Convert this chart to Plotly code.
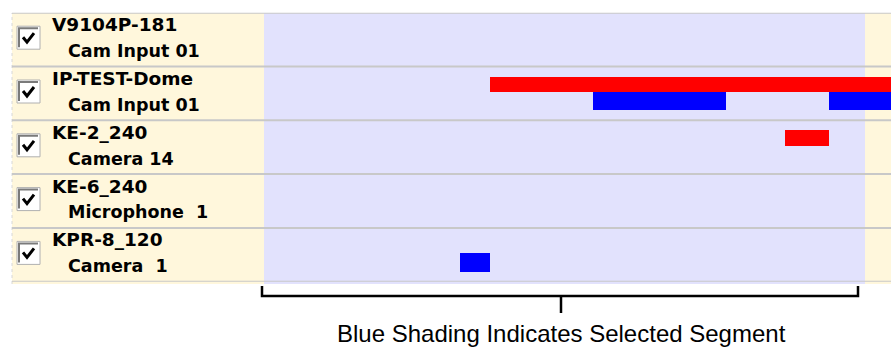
import plotly.graph_objects as go

W, H = 891, 348

# ---- data ----
devices = ["V9104P-181", "IP-TEST-Dome", "KE-2_240", "KE-6_240", "KPR-8_120"]
inputs = ["Cam Input 01", "Cam Input 01", "Camera 14", "Microphone  1", "Camera  1"]

# timeline segments (minutes from start of visible window)
red_rows = [1, 2]
red_start = [22.6, 52.1]
red_end = [70.0, 56.5]

blue_rows = [1, 1, 4]
blue_start = [32.9, 56.5, 19.6]
blue_end = [46.2, 70.0, 22.6]

view_start, view_end = 0.0, 62.7
sel_start, sel_end = 0.0, 60.1
caption = "Blue Shading Indicates Selected Segment"

# ---- geometry helpers ----
def px(x):
    return x / W

def py(y):
    return 1 - y / H

top_px, bot_px = 12.7, 281.7
n = len(devices)
row_h = (bot_px - top_px) / n
RED_OFF, RED_W = 0.323, 0.28
BLUE_OFF, BLUE_W = 0.635, 0.345

fig = go.Figure()
fig.add_trace(go.Bar(
    orientation="h",
    y=[r + RED_OFF for r in red_rows],
    base=red_start,
    x=[e - s for s, e in zip(red_start, red_end)],
    width=RED_W,
    marker=dict(color="#FF0000", line=dict(width=0)),
    hoverinfo="skip",
))
fig.add_trace(go.Bar(
    orientation="h",
    y=[r + BLUE_OFF for r in blue_rows],
    base=blue_start,
    x=[e - s for s, e in zip(blue_start, blue_end)],
    width=BLUE_W,
    marker=dict(color="#0000FF", line=dict(width=0)),
    hoverinfo="skip",
))

shapes = []
# beige panel background
shapes.append(dict(type="rect", xref="paper", yref="paper",
                   x0=px(12), x1=1, y0=py(284), y1=py(13),
                   fillcolor="#FFF7DC", line=dict(width=0), layer="below"))
# selected segment (lavender)
shapes.append(dict(type="rect", xref="x", yref="paper",
                   x0=sel_start, x1=sel_end, y0=py(284), y1=py(13),
                   fillcolor="#E2E2FD", line=dict(width=0), layer="below"))
# left dotted edge
shapes.append(dict(type="line", xref="paper", yref="paper",
                   x0=px(12), x1=px(12), y0=py(284), y1=py(13),
                   line=dict(color="#D8D8D8", width=1, dash="dot"), layer="below"))
# row separators
for i in range(n + 1):
    shapes.append(dict(type="line", xref="paper", yref="y",
                       x0=px(12), x1=1, y0=i, y1=i,
                       line=dict(color="#C8C8C8", width=2), layer="below"))

annotations = []
for i, (d, s) in enumerate(zip(devices, inputs)):
    rt = top_px + i * row_h
    # checkbox
    bx0, bx1 = 17, 40
    by0, by1 = rt + 13.5, rt + 36.5
    shapes.append(dict(type="rect", xref="paper", yref="paper",
                       x0=px(bx0), x1=px(bx1), y0=py(by1), y1=py(by0),
                       fillcolor="white", line=dict(color="#B0B0B0", width=1)))
    shapes.append(dict(type="path", xref="paper", yref="paper",
                       path=f"M {px(bx0+2)},{py(by1-2)} L {px(bx0+2)},{py(by0+2)} L {px(bx1-2)},{py(by0+2)}",
                       line=dict(color="#7A7A7A", width=2)))
    shapes.append(dict(type="path", xref="paper", yref="paper",
                       path=f"M {px(23)},{py(rt+24.5)} L {px(27)},{py(rt+29.5)} L {px(34)},{py(rt+20.5)}",
                       line=dict(color="black", width=3)))
    annotations.append(dict(text=d, xref="paper", yref="paper", x=px(50), y=py(rt + 12.0),
                            xanchor="left", yanchor="middle", showarrow=False,
                            font=dict(family="DejaVu Sans", size=18.5, color="black", weight="bold")))
    annotations.append(dict(text=s, xref="paper", yref="paper", x=px(66), y=py(rt + 38.4),
                            xanchor="left", yanchor="middle", showarrow=False,
                            font=dict(family="DejaVu Sans", size=17.5, color="black", weight="bold")))

# bracket
shapes.append(dict(type="path", xref="paper", yref="paper",
                   path=f"M {px(262)},{py(286)} L {px(262)},{py(296)} L {px(858)},{py(296)} L {px(858)},{py(286)}",
                   line=dict(color="black", width=2.5)))
shapes.append(dict(type="line", xref="paper", yref="paper",
                   x0=px(561), x1=px(561), y0=py(296), y1=py(313),
                   line=dict(color="black", width=2.5)))

annotations.append(dict(text=caption, xref="paper", yref="paper", x=px(561), y=py(333),
                        xanchor="center", yanchor="middle", showarrow=False,
                        font=dict(family="Liberation Sans, Arial", size=24, color="black")))

fig.update_layout(
    width=W, height=H,
    margin=dict(l=0, r=0, t=0, b=0),
    paper_bgcolor="white",
    plot_bgcolor="rgba(0,0,0,0)",
    showlegend=False,
    barmode="overlay",
    bargap=0,
    shapes=shapes,
    annotations=annotations,
    xaxis=dict(domain=[px(264), 1], range=[view_start, view_end], visible=False, fixedrange=True),
    yaxis=dict(domain=[py(bot_px), py(top_px)], range=[n, 0], visible=False, fixedrange=True),
)

fig.write_html(
    "out.html",
    config={"displayModeBar": False},
    post_script="document.body.style.margin='0';document.body.style.overflow='hidden';",
)
